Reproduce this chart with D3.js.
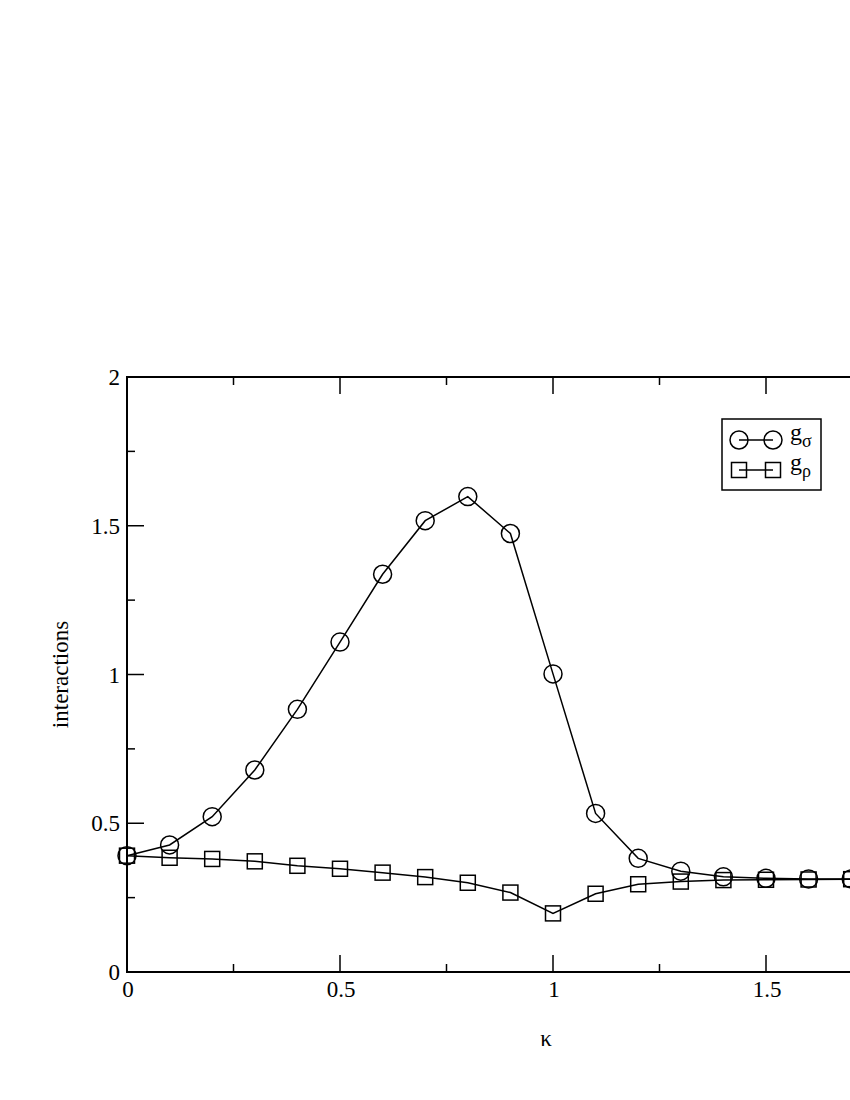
<!DOCTYPE html>
<html>
<head>
<meta charset="utf-8">
<script src="https://cdn.jsdelivr.net/npm/d3@7"></script>
<style>
  body { margin: 0; background: #fff; }
  svg { display: block; }
  text { font-family: "Liberation Serif", "Times New Roman", serif; fill: #000; }
</style>
</head>
<body>
<svg id="chart" width="850" height="1100"></svg>
<script>
const kappa = [0, 0.1, 0.2, 0.3, 0.4, 0.5, 0.6, 0.7, 0.8, 0.9, 1.0, 1.1, 1.2, 1.3, 1.4, 1.5, 1.6, 1.7];
const gSigma = [0.391, 0.427, 0.522, 0.679, 0.883, 1.109, 1.337, 1.517, 1.598, 1.474, 1.002, 0.533, 0.382, 0.339, 0.320, 0.315, 0.313, 0.313];
const gRho   = [0.391, 0.384, 0.380, 0.372, 0.357, 0.347, 0.334, 0.319, 0.300, 0.267, 0.197, 0.263, 0.295, 0.304, 0.309, 0.310, 0.311, 0.312];
const xTicks = [0, 0.5, 1, 1.5];
const xMinor = [0.25, 0.75, 1.25, 1.75];
const yTicks = [0, 0.5, 1, 1.5, 2];
const yMinor = [0.25, 0.75, 1.25, 1.75];
const xTickLabels = ["0", "0.5", "1", "1.5"];
const yTickLabels = ["0", "0.5", "1", "1.5", "2"];

(function () {
const svg = d3.select("#chart");
const pL = 127, pT = 377, pB = 972, pR = 979;
const x = d3.scaleLinear().domain([0, 2]).range([pL, pR]);
const y = d3.scaleLinear().domain([0, 2]).range([pB, pT]);

const g = svg.append("g");

g.append("rect").attr("x", pL).attr("y", pT)
  .attr("width", pR - pL).attr("height", pB - pT)
  .attr("fill", "none").attr("stroke", "#000").attr("stroke-width", 2);

const majorLen = 17, minorLen = 8;
const tick = (x1, y1, x2, y2) => g.append("line").attr("x1", x1).attr("y1", y1).attr("x2", x2).attr("y2", y2).attr("stroke", "#000").attr("stroke-width", 1.5);
xTicks.forEach(v => { tick(x(v), pB, x(v), pB - majorLen); tick(x(v), pT, x(v), pT + majorLen); });
xMinor.forEach(v => { tick(x(v), pB, x(v), pB - minorLen); tick(x(v), pT, x(v), pT + minorLen); });
yTicks.forEach(v => { tick(pL, y(v), pL + majorLen, y(v)); tick(pR, y(v), pR - majorLen, y(v)); });
yMinor.forEach(v => { tick(pL, y(v), pL + minorLen, y(v)); tick(pR, y(v), pR - minorLen, y(v)); });

xTicks.forEach((v, i) => {
  g.append("text").attr("x", x(v) + 1).attr("y", pB + 25).attr("text-anchor", "middle")
    .attr("font-size", 23).text(xTickLabels[i]);
});
yTicks.forEach((v, i) => {
  g.append("text").attr("x", pL - 7).attr("y", y(v) + 8).attr("text-anchor", "end")
    .attr("font-size", 23).text(yTickLabels[i]);
});

g.append("text").attr("x", x(1) - 7).attr("y", 1046).attr("text-anchor", "middle")
  .attr("font-size", 23).text("κ");
g.append("text").attr("transform", `translate(68,${(pT + pB) / 2}) rotate(-90)`)
  .attr("text-anchor", "middle").attr("font-size", 23).text("interactions");

const line = d3.line().x((d, i) => x(kappa[i])).y(d => y(d));
g.append("path").datum(gSigma).attr("d", line).attr("fill", "none").attr("stroke", "#000").attr("stroke-width", 1.5);
g.append("path").datum(gRho).attr("d", line).attr("fill", "none").attr("stroke", "#000").attr("stroke-width", 1.5);

const r = 9, s = 15;
g.selectAll("rect.sq").data(gRho).enter().append("rect").attr("class", "sq")
  .attr("x", (d, i) => x(kappa[i]) - s / 2).attr("y", d => y(d) - s / 2)
  .attr("width", s).attr("height", s).attr("fill", "none").attr("stroke", "#000").attr("stroke-width", 1.5);
g.selectAll("circle.ci").data(gSigma).enter().append("circle").attr("class", "ci")
  .attr("cx", (d, i) => x(kappa[i])).attr("cy", d => y(d)).attr("r", r)
  .attr("fill", "none").attr("stroke", "#000").attr("stroke-width", 1.5);

const lg = svg.append("g");
lg.append("rect").attr("x", 722).attr("y", 419).attr("width", 99).attr("height", 71)
  .attr("fill", "#fff").attr("stroke", "#000").attr("stroke-width", 1.5);
const lx1 = 739, lx2 = 773;
lg.append("line").attr("x1", lx1).attr("x2", lx2).attr("y1", 440).attr("y2", 440).attr("stroke", "#000").attr("stroke-width", 1.5);
[lx1, lx2].forEach(cx => lg.append("circle").attr("cx", cx).attr("cy", 440).attr("r", r).attr("fill", "none").attr("stroke", "#000").attr("stroke-width", 1.5));
const t1 = lg.append("text").attr("x", 790).attr("y", 440).attr("font-size", 24);
t1.append("tspan").text("g");
t1.append("tspan").attr("dy", 7).attr("font-size", 18).text("σ");
lg.append("line").attr("x1", lx1).attr("x2", lx2).attr("y1", 470).attr("y2", 470).attr("stroke", "#000").attr("stroke-width", 1.5);
[lx1, lx2].forEach(cx => lg.append("rect").attr("x", cx - s / 2).attr("y", 470 - s / 2).attr("width", s).attr("height", s).attr("fill", "none").attr("stroke", "#000").attr("stroke-width", 1.5));
const t2 = lg.append("text").attr("x", 790).attr("y", 470).attr("font-size", 24);
t2.append("tspan").text("g");
t2.append("tspan").attr("dy", 7).attr("font-size", 18).text("ρ");
})();
</script>
</body>
</html>
